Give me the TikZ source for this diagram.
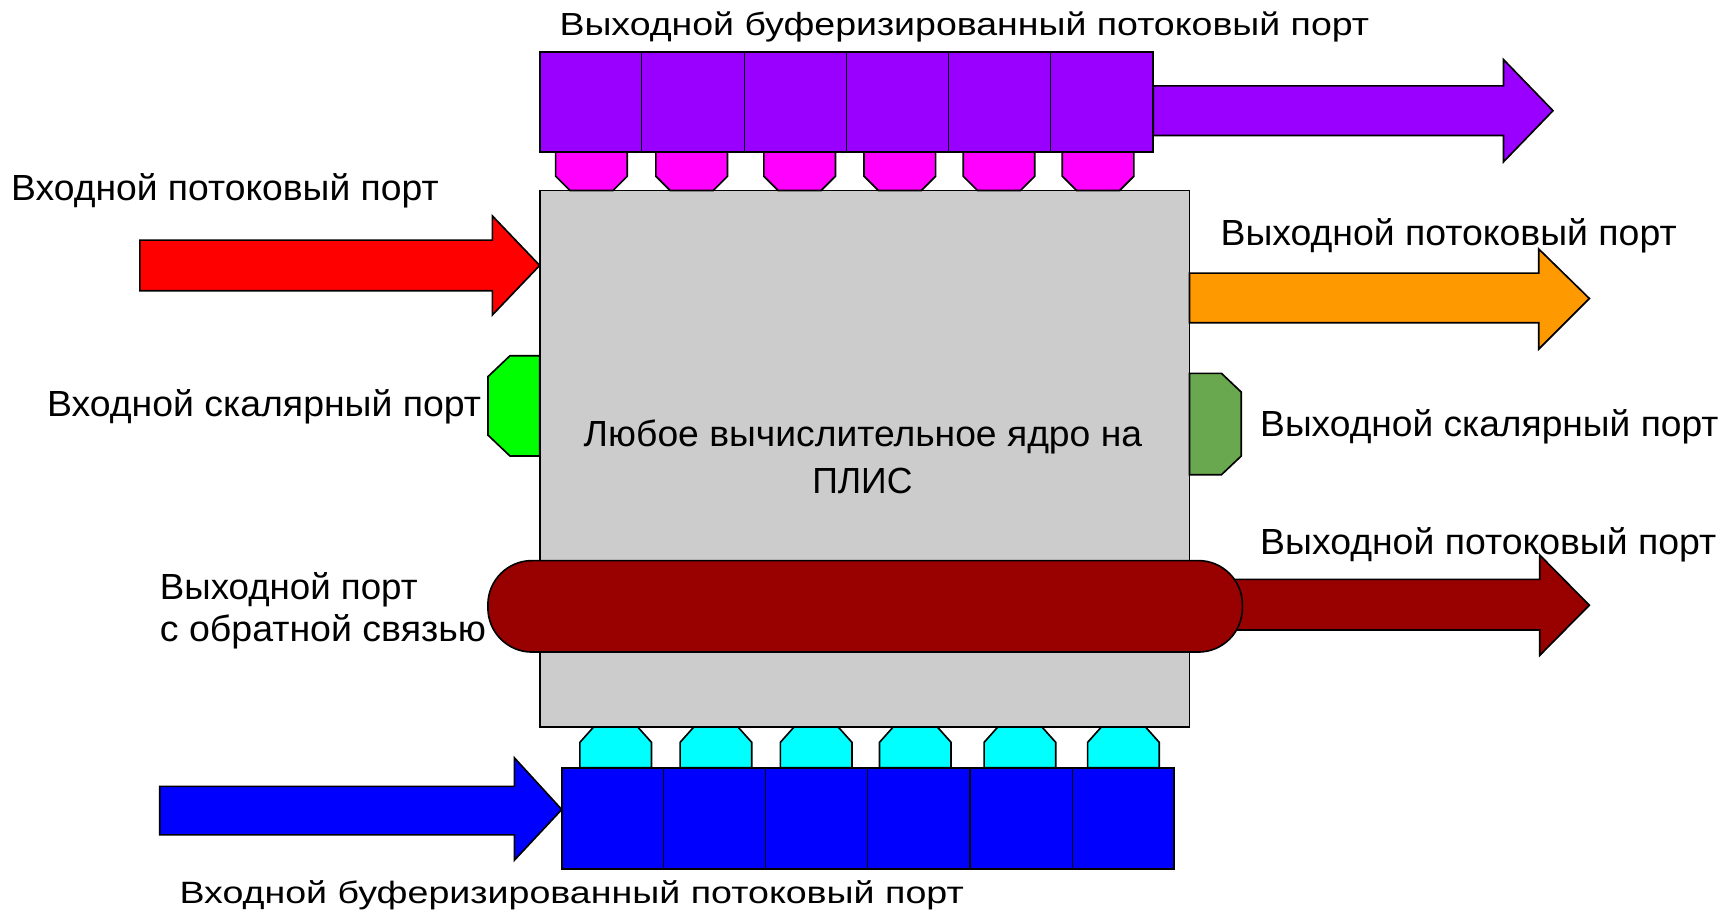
\documentclass[tikz,border=0pt]{standalone}
\usepackage{fontspec}
\setmainfont{Liberation Sans}
\usepackage{graphicx}
\definecolor{coreg}{HTML}{CCCCCC}
\definecolor{purp}{HTML}{9900FF}
\definecolor{pinkc}{HTML}{FF00FF}
\definecolor{redc}{HTML}{FF0000}
\definecolor{greenc}{HTML}{00FF00}
\definecolor{orangec}{HTML}{FF9900}
\definecolor{dgreen}{HTML}{6AA84F}
\definecolor{dred}{HTML}{990000}
\definecolor{cyanc}{HTML}{00FFFF}
\definecolor{bluec}{HTML}{0000FF}
\newcommand\fitw[2]{\resizebox{#1pt}{\height}{#2}}
\begin{document}
\begin{tikzpicture}[x=1pt,y=-1pt,
  part/.style={draw=black,line width=1.5pt,line join=miter},
  lbl/.style={inner sep=0pt,font=\fontsize{33}{38}\selectfont}]
\useasboundingbox (0,0) rectangle (1568,833);
\fill[white] (0,0) rectangle (1568,833);

% core
\node[part,fill=coreg,minimum width=590pt,minimum height=487pt,inner sep=0pt] (core) at (785,416.5) {};

% pink connectors (top)
\foreach \c in {537,628,726,817,907,997}
  \draw[part,fill=pinkc] ({\c-32.5},138) -- ({\c+32.5},138) -- ({\c+32.5},160) -- ({\c+19.5},173) -- ({\c-19.5},173) -- ({\c-32.5},160) -- cycle;

% purple arrow and buffer
\draw[part,fill=purp] (1047,78) -- (1365,78) -- (1365,54) -- (1410,100.5) -- (1365,147) -- (1365,123) -- (1047,123) -- cycle;
\node[part,fill=purp,minimum width=557pt,minimum height=91pt,inner sep=0pt] (obuf) at (768.5,92.5) {};
\foreach \i in {1,...,5}
  \draw[line width=1pt] ({490+\i*92.83},47) -- ({490+\i*92.83},138);

% red input arrow
\draw[part,fill=redc] (127,218) -- (447,218) -- (447,196) -- (490,241) -- (447,286) -- (447,264) -- (127,264) -- cycle;

% orange output arrow
\draw[part,fill=orangec] (1080,248) -- (1397,248) -- (1397,226) -- (1443,271) -- (1397,317) -- (1397,293) -- (1080,293) -- cycle;

% scalar ports
\draw[part,fill=greenc] (490,323) -- (463,323) -- (443,342) -- (443,395) -- (463,414) -- (490,414) -- cycle;
\draw[part,fill=dgreen] (1080,339) -- (1109,339) -- (1127,356) -- (1127,414) -- (1109,431) -- (1080,431) -- cycle;

% feedback arrow and pill
\draw[part,fill=dred] (1100,526) -- (1398,526) -- (1398,504) -- (1443,549.5) -- (1398,595) -- (1398,572) -- (1100,572) -- cycle;
\draw[part,fill=dred,rounded corners=40pt] (443,509) rectangle (1128,592);

% cyan connectors (bottom)
\foreach \c in {559,650,741,831,926,1020}
  \draw[part,fill=cyanc] ({\c-32.5},697) -- ({\c-32.5},674) -- ({\c-20},660) -- ({\c+20},660) -- ({\c+32.5},674) -- ({\c+32.5},697) -- cycle;

% blue arrow and buffer
\draw[part,fill=bluec] (145,714) -- (467,714) -- (467,688) -- (510,735) -- (467,781) -- (467,758) -- (145,758) -- cycle;
\node[part,fill=bluec,minimum width=556pt,minimum height=92pt,inner sep=0pt] (ibuf) at (788,743) {};
\foreach \i in {1,...,5}
  \draw[line width=1pt] ({510+\i*92.67},697) -- ({510+\i*92.67},789);

% labels
\node[lbl,anchor=base] (tl) at (875.5,32) {\fitw{735}{\fontsize{29}{34}\selectfont Выходной буферизированный потоковый порт}};
\node[lbl,anchor=base west] (l1) at (10,182) {\fitw{388}{Входной потоковый порт}};
\node[lbl,anchor=base east] (l2) at (437,378) {\fitw{394}{Входной скалярный порт}};
\node[lbl,anchor=base west] (r1) at (1108,223) {\fitw{414}{Выходной потоковый порт}};
\node[lbl,anchor=base west] (r2) at (1144,396.5) {\fitw{416}{Выходной скалярный порт}};
\node[lbl,anchor=base west] (r3) at (1144,503) {\fitw{414}{Выходной потоковый порт}};
\node[lbl,anchor=base west] (f1) at (145,544) {\fitw{234}{Выходной порт}};
\node[lbl,anchor=base west] (f2) at (145,582.6) {\fitw{296}{с обратной связью}};
\node[lbl,anchor=base] (c1) at (783.5,405.5) {\fitw{507}{Любое вычислительное ядро на}};
\node[lbl,anchor=base] (c2) at (783,448) {\fitw{91}{ПЛИС}};
\node[lbl,anchor=base] (bl) at (519,820) {\fitw{712}{\fontsize{28}{34}\selectfont Входной буферизированный потоковый порт}};
\end{tikzpicture}
\end{document}
